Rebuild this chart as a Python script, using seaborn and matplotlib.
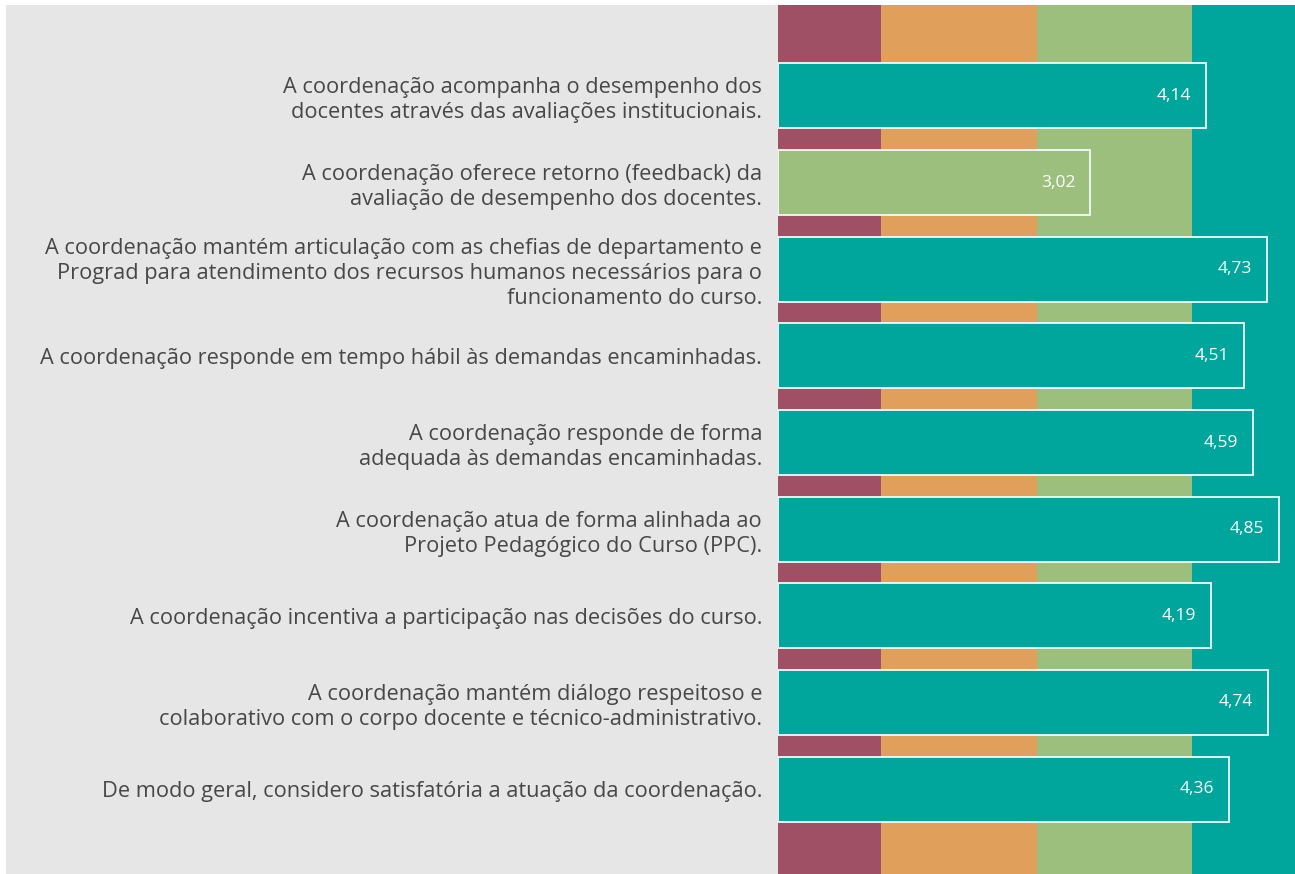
import matplotlib
matplotlib.use("Agg")
import matplotlib.pyplot as plt
import matplotlib.patches as mpatches
import seaborn as sns
import pandas as pd

sns.set_style("white")
plt.rcParams['font.family'] = ['Open Sans', 'DejaVu Sans']

# data
questions = [
    "A coordenação acompanha o desempenho dos\ndocentes através das avaliações institucionais.",
    "A coordenação oferece retorno (feedback) da\navaliação de desempenho dos docentes.",
    "A coordenação mantém articulação com as chefias de departamento e\n"
    "Prograd para atendimento dos recursos humanos necessários para o\nfuncionamento do curso.",
    "A coordenação responde em tempo hábil às demandas encaminhadas.",
    "A coordenação responde de forma\nadequada às demandas encaminhadas.",
    "A coordenação atua de forma alinhada ao\nProjeto Pedagógico do Curso (PPC).",
    "A coordenação incentiva a participação nas decisões do curso.",
    "A coordenação mantém diálogo respeitoso e\ncolaborativo com o corpo docente e técnico-administrativo.",
    "De modo geral, considero satisfatória a atuação da coordenação.",
]
scores = [4.14, 3.02, 4.73, 4.51, 4.59, 4.85, 4.19, 4.74, 4.36]

# background bands (score ranges)
band_edges = [0, 1, 2.5, 4, 5]
band_colors = ['#A05064', '#E0A05C', '#9DBF7E', '#00A69C']


def band_color(v):
    for i in range(len(band_colors)):
        if band_edges[i] <= v < band_edges[i + 1]:
            return band_colors[i]
    return band_colors[-1]


df = pd.DataFrame({'pergunta': questions, 'media': scores})
bar_colors = [band_color(v) for v in scores]

fig = plt.figure(figsize=(12.95, 8.74), dpi=100, facecolor='white')
# grey panel behind the labels
fig.patches.append(mpatches.Rectangle((6 / 1295, 0), (778 - 6) / 1295, 1 - 5 / 874,
                                      transform=fig.transFigure, facecolor='#E6E6E6',
                                      edgecolor='none', zorder=-1))
ax = fig.add_axes([778 / 1295, 0, 1 - 778 / 1295, 1 - 5 / 874])

for i in range(len(band_colors)):
    ax.axvspan(band_edges[i], band_edges[i + 1], color=band_colors[i], lw=0, zorder=0)

sns.barplot(data=df, x='media', y='pergunta', hue='pergunta', palette=bar_colors,
            legend=False, width=0.75, edgecolor='#F2FAF9', linewidth=1.3,
            saturation=1, ax=ax, zorder=2)

for i, v in enumerate(scores):
    ax.text(v - 0.145, i, f"{v:.2f}".replace('.', ','), ha='right', va='center',
            color='white', fontsize=12.5, zorder=3)

ax.set_xlim(0, 5)
ax.set_ylim(len(scores) - 1 + 0.98, -1.05)
ax.set_xlabel('')
ax.set_ylabel('')
ax.set_xticks([])
ax.tick_params(axis='y', length=0, pad=11.5, labelsize=15.7, labelcolor='#474747')
for lbl in ax.get_yticklabels():
    lbl.set_linespacing(1.25)
for s in ax.spines.values():
    s.set_visible(False)

fig.savefig('out.png', dpi=100, facecolor='white')
